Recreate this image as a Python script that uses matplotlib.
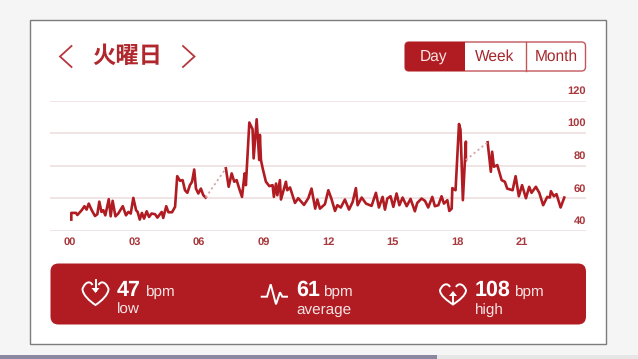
import matplotlib
matplotlib.use("Agg")
import matplotlib.pyplot as plt
from matplotlib.patches import FancyBboxPatch, Rectangle, PathPatch
from matplotlib.path import Path

plt.rcParams["text.hinting"] = "no_hinting"

# heart rate trace, split where the sensor had no readings
hours_a = [0.06, 0.06, 0.28, 0.34, 0.54, 0.67, 0.77, 0.87, 1.01, 1.16, 1.27, 1.36, 1.46, 1.55, 1.64, 1.80,
           1.89, 1.98, 2.11, 2.24, 2.45, 2.60, 2.71, 2.82, 2.94, 3.07, 3.14, 3.24, 3.34, 3.44, 3.56, 3.67,
           3.79, 3.95, 4.06, 4.26, 4.33, 4.47, 4.57, 4.74, 4.88, 4.98, 5.11, 5.23, 5.34, 5.45, 5.57, 5.67,
           5.77, 5.85, 5.96, 6.08, 6.19, 6.30]
bpm_a = [47, 51.1, 51.1, 49.8, 52.7, 55.2, 53.1, 56.8, 52.7, 49.2, 50.3, 58, 51.7, 52.7, 49.6, 59.5,
         49, 58.5, 49, 50.7, 55.2, 49.6, 51.7, 50.7, 60.3, 52.7, 51.7, 47, 51.1, 47.6, 52.1, 48.6,
         50.7, 50.3, 48.2, 51.7, 48, 55.2, 51.5, 51.5, 54.8, 73.6, 70.8, 71.2, 65, 63.4, 68.1, 70.2,
         77.7, 66, 63, 66, 62, 60.5]

hours_b = [7.24, 7.37, 7.51, 7.63, 7.74, 7.86, 7.99, 8.11, 8.17, 8.33, 8.48, 8.53, 8.67, 8.79, 8.82, 8.87,
           8.95, 9.10, 9.26, 9.41, 9.47, 9.57, 9.63, 9.75, 9.80, 10.03, 10.09, 10.22, 10.45, 10.60, 10.87,
           11.07, 11.22, 11.39, 11.49, 11.61, 11.84, 12.0, 12.14, 12.31, 12.42, 12.58, 12.77, 12.96, 13.13,
           13.28, 13.36, 13.55, 13.75, 14.01, 14.21, 14.35, 14.52, 14.63, 14.74, 14.89, 15.02, 15.17, 15.30,
           15.45, 15.64, 15.82, 16.02, 16.13, 16.33, 16.49, 16.64, 16.83, 16.95, 17.11, 17.26, 17.37, 17.53,
           17.62, 17.73, 17.76, 17.91, 18.07, 18.14, 18.25, 18.39, 18.39]
bpm_b = [78.4, 67.1, 75.3, 70.2, 71.2, 66, 60.9, 75.3, 68.1, 106.5, 102.4, 84.5, 108.5, 83.5, 98.9, 83.5,
         78.4, 70.2, 67.5, 68.1, 60.9, 69.1, 61.9, 71.2, 59.3, 70.2, 65, 66.7, 57.2, 60.1, 56,
         60.1, 66, 53.7, 59.3, 53.7, 56.4, 65, 59.9, 52.3, 55.8, 54.4, 59.3, 53.1, 57.8,
         66.3, 55.8, 60.5, 56.8, 55.4, 63.4, 54.4, 60.9, 53.1, 59.9, 61.3, 54.8, 63, 55.8,
         60.5, 55.2, 59.7, 52.1, 57.2, 59.9, 58.5, 54.4, 60.9, 55.2, 55.8, 61.3, 56.8, 58.9,
         52.3, 53.7, 66.3, 65, 105.6, 102, 58.9, 94.8, 83.5]

hours_c = [19.40, 19.55, 19.61, 19.69, 19.85, 20.05, 20.20, 20.31, 20.56, 20.70, 20.85, 21.0, 21.18, 21.33,
           21.44, 21.64, 21.80, 21.98, 22.17, 22.29, 22.34, 22.48, 22.60, 22.79, 22.96]
bpm_c = [94.4, 76.3, 88.6, 79.4, 80.4, 71.2, 70.2, 66, 65, 73.6, 61.3, 68.1, 60.1, 67.1,
         63.4, 67.1, 63.4, 55.8, 60.9, 60.5, 64.4, 61.3, 62.6, 54.4, 60.5]

x_ticks = [0, 3, 6, 9, 12, 15, 18, 21]
x_labels = ["00", "03", "06", "09", "12", "15", "18", "21"]
y_ticks = [40, 60, 80, 100, 120]

title = "火曜日"
ranges = ["Day", "Week", "Month"]
stats = ["47", "61", "108"]
stat_names = ["low", "average", "high"]

RED = "#b01c22"
W, H = 638, 359
LATIN = ["Liberation Sans", "DejaVu Sans"]

fig = plt.figure(figsize=(W / 100, H / 100), dpi=100, facecolor="#f5f5f5")

# page furniture, in pixels from the top left
bg = fig.add_axes([0, 0, 1, 1])
bg.set_xlim(0, W)
bg.set_ylim(H, 0)
bg.axis("off")

bg.add_patch(Rectangle((29.5, 19.5), 576.5, 324.5, fc="white", ec="#7c7c7c", lw=1))
bg.add_patch(Rectangle((0, 355), 437, 4, fc="#8b87a0", ec="none"))
bg.add_patch(Rectangle((437, 355), 201, 4, fc="#e6e6e6", ec="none"))

# title with arrows
bg.plot([71.5, 60, 71.5], [46, 56.5, 67], color="#b5383d", lw=1.3, solid_joinstyle="miter")
bg.plot([183, 194.5, 183], [46, 56.5, 67], color="#b5383d", lw=1.3, solid_joinstyle="miter")
bg.text(127, 56, title, color="#b0282d", fontsize=16.8, fontweight="bold", ha="center", va="center",
        family=["Noto Sans CJK JP", "DejaVu Sans"])

# day / week / month switch
box = FancyBboxPatch((405, 42), 180.5, 29, boxstyle="round,pad=0,rounding_size=4", fc="white", ec="#c4565a", lw=1)
bg.add_patch(box)
day = FancyBboxPatch((405, 42), 180.5, 29, boxstyle="round,pad=0,rounding_size=4", fc=RED, ec="none")
bg.add_patch(day)
day.set_clip_path(Rectangle((405, 41), 60, 31, transform=bg.transData))
bg.plot([525.5, 525.5], [42, 71], color="#c4565a", lw=1)
for name, cx, col in zip(ranges, [434, 494.5, 556], ["#f6e4e4", "#a5282d", "#a5282d"]):
    bg.text(cx, 57, name, color=col, fontsize=11.2, ha="center", va="center", family=LATIN)

# summary panel
bg.add_patch(FancyBboxPatch((50.5, 263.5), 535.5, 61, boxstyle="round,pad=0,rounding_size=8", fc=RED, ec="none"))


def heart(cx, top, w, h):
    # outline with a gap at the notch for the arrow
    l = cx - w / 2
    r = cx + w / 2
    b = top + h
    verts = [(cx - 3, top + 3), (cx - 5, top - 1), (l + 3, top - 1), (l, top + h * 0.3),
             (l, top + h * 0.55), (cx - 6, b - 4), (cx, b),
             (cx + 6, b - 4), (r, top + h * 0.55), (r, top + h * 0.3),
             (r - 3, top - 1), (cx + 5, top - 1), (cx + 3, top + 3)]
    codes = [Path.MOVETO] + [Path.CURVE4] * 12
    bg.add_patch(PathPatch(Path(verts, codes), fc="none", ec="white", lw=1.4))


# low
heart(95.5, 282, 26, 23)
bg.plot([95.5, 95.5], [280, 291], color="white", lw=1.4)
bg.fill([91.5, 99.5, 95.5], [288, 288, 293], color="white", lw=0)
# average
bg.plot([261.7, 267, 270.7, 276, 280, 282.3, 287], [296.7, 296.7, 284.3, 304.3, 292.3, 296.7, 296.7],
        color="white", lw=1.4, solid_joinstyle="miter")
# high
heart(453, 284, 26, 20.5)
bg.plot([453, 453], [295, 304], color="white", lw=1.4)
bg.fill([449, 457, 453], [296, 296, 291], color="white", lw=0)

for val, name, x0, unit_x in zip(stats, stat_names, [117, 296, 475], [145, 323, 514]):
    bg.text(x0, 296, val, color="white", fontsize=15.5, fontweight="bold", va="baseline", family=LATIN)
    bg.text(unit_x, 296, "bpm", color="#f6e4e4", fontsize=11, va="baseline", family=LATIN)
    bg.text(x0, 313.5, name, color="#f6e4e4", fontsize=11, va="baseline", family=LATIN)

# chart, axes box matches the gridline span
ax = fig.add_axes([50 / W, 1 - 231 / H, 536 / W, 130.5 / H])
ax.patch.set_alpha(0)
ax.set_xlim(-0.93, 23.97)
ax.set_ylim(40, 120)
for s in ax.spines.values():
    s.set_visible(False)
ax.set_yticks(y_ticks)
ax.set_yticklabels([])
ax.set_xticks(x_ticks)
ax.set_xticklabels(x_labels, color="#a8383c", fontsize=8, fontweight="bold", family=LATIN)
ax.tick_params(length=0, pad=4.5)
ax.grid(axis="y", color="#ecdcdd", lw=1.1)
ax.set_axisbelow(True)

for v in y_ticks:
    ax.annotate(str(v), (1, v), xycoords=("axes fraction", "data"), xytext=(0, 7), textcoords="offset points",
                ha="right", va="center", color="#a8383c", fontsize=8, fontweight="bold", family=LATIN)

for hx, by in [(hours_a, bpm_a), (hours_b, bpm_b), (hours_c, bpm_c)]:
    ax.plot(hx, by, color=RED, lw=1.9, solid_joinstyle="round", clip_on=False)

# no readings: dotted link across the gaps
ax.plot([hours_a[-1], hours_b[0]], [bpm_a[-1], bpm_b[0]], color="#d9a6a8", lw=1.3, ls=(0, (1.2, 1.6)))
ax.plot([hours_b[-1], hours_c[0]], [bpm_b[-1], bpm_c[0]], color="#d9a6a8", lw=1.3, ls=(0, (1.2, 1.6)))

fig.savefig("out.png", dpi=100, facecolor=fig.get_facecolor())
